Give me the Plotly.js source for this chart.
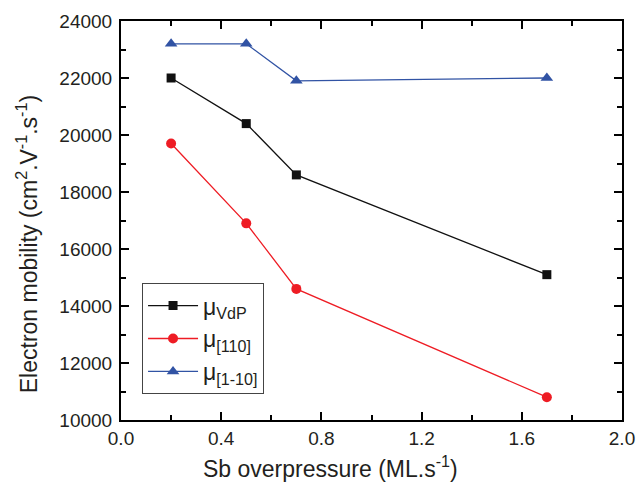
<!DOCTYPE html>
<html><head><meta charset="utf-8">
<script src="https://cdn.plot.ly/plotly-3.0.1.min.js"></script>
<style>html,body{margin:0;padding:0;background:#fff}</style>
</head><body>
<div id="chart" style="width:636px;height:489px"></div>
<script>
const overpressure = [0.2, 0.5, 0.7, 1.7];
const muVdP = [22000, 20400, 18600, 15100];
const mu110 = [19700, 16900, 14600, 10800];
const mu1m10 = [23200, 23200, 21900, 22000];
const seriesNames = ['μ<sub>VdP</sub>', 'μ<sub>[110]</sub>', 'μ<sub>[1-10]</sub>'];
const xTitle = 'Sb overpressure (ML.s<sup>-1</sup>)';
const yTitle = 'Electron mobility (cm<sup>2</sup>.V<sup>-1</sup>.s<sup>-1</sup>)';

const FONT = 'Liberation Sans, Arial, sans-serif';
const TXT = '#231f20';
const traces = [
  {x: overpressure, y: muVdP, name: seriesNames[0], mode: 'lines+markers',
   line: {color: '#111111', width: 1.3}, marker: {symbol: 'square', size: 9, color: '#111111'}},
  {x: overpressure, y: mu110, name: seriesNames[1], mode: 'lines+markers',
   line: {color: '#ee1c24', width: 1.3}, marker: {symbol: 'circle', size: 10, color: '#ee1c24'}},
  {x: overpressure, y: mu1m10, name: seriesNames[2], mode: 'lines+markers',
   line: {color: '#3153a4', width: 1.3}, marker: {symbol: 'triangle-up', size: 11, color: '#3153a4'}}
];
const axisCommon = {
  showgrid: false, zeroline: false, showline: true, linecolor: '#000', linewidth: 2,
  mirror: 'allticks', ticks: 'inside', ticklen: 8, tickwidth: 2, tickcolor: '#000',
  tickfont: {family: FONT, size: 19, color: TXT}
};
const layout = {
  width: 636, height: 489,
  margin: {l: 121, r: 14, t: 21, b: 69},
  paper_bgcolor: '#fff', plot_bgcolor: '#fff',
  font: {family: FONT, color: TXT},
  xaxis: Object.assign({}, axisCommon, {
    range: [0, 2.0], tickvals: [0, 0.4, 0.8, 1.2, 1.6, 2.0],
    ticktext: ['0.0', '0.4', '0.8', '1.2', '1.6', '2.0'],
    minor: {tickvals: [0.2, 0.6, 1.0, 1.4, 1.8], ticklen: 5, tickwidth: 2, tickcolor: '#000', ticks: 'inside'}
  }),
  yaxis: Object.assign({}, axisCommon, {
    range: [10000, 24000], dtick: 2000, tick0: 10000, tickformat: 'd', ticklabelstandoff: 3,
    minor: {dtick: 1000, tick0: 10000, ticklen: 5, tickwidth: 2, tickcolor: '#000', ticks: 'inside'}
  }),
  annotations: [
    {text: xTitle, xref: 'paper', yref: 'paper', x: 0.419, y: -0.118,
     xanchor: 'center', yanchor: 'middle', showarrow: false,
     font: {family: FONT, size: 23, color: TXT}},
    {text: yTitle, xref: 'paper', yref: 'paper', x: -0.186, y: 0.44, textangle: -90,
     xanchor: 'center', yanchor: 'middle', showarrow: false,
     font: {family: FONT, size: 23, color: TXT}}
  ],
  showlegend: true,
  legend: {
    x: 0.042, y: 0.343, xanchor: 'left', yanchor: 'top',
    bgcolor: '#fff', bordercolor: '#444', borderwidth: 1,
    font: {family: FONT, size: 23, color: TXT},
    tracegroupgap: 2, itemwidth: 50
  }
};
Plotly.newPlot('chart', traces, layout, {displayModeBar: false, staticPlot: true});
</script>
</body></html>
